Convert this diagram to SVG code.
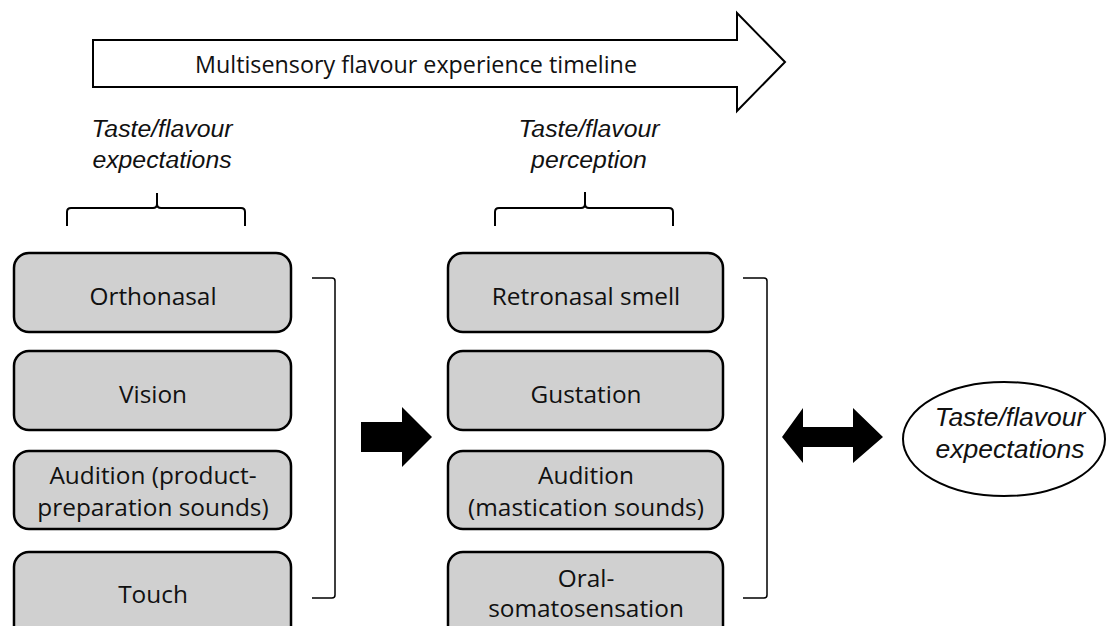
<svg xmlns="http://www.w3.org/2000/svg" width="1109" height="626" viewBox="0 0 1109 626">
<style>
.box{fill:#d0d0d0;stroke:#000;stroke-width:2.5}
.lbl{font-family:"Open Sans","Liberation Sans",sans-serif;font-size:24.4px;fill:#111;text-anchor:middle}
.tl{font-family:"Open Sans","Liberation Sans",sans-serif;font-size:23.3px;fill:#111;text-anchor:middle}
.hd{font-family:"Liberation Sans",Arial,sans-serif;font-style:italic;font-size:24.8px;fill:#111;text-anchor:middle}
.hde{font-family:"Liberation Sans",Arial,sans-serif;font-style:italic;font-size:26.5px;fill:#111;text-anchor:middle}
.brk{fill:none;stroke:#000;stroke-width:2}
.thin{fill:none;stroke:#000;stroke-width:1.5}
</style>
<rect width="1109" height="626" fill="#fff"/>
<g id="timeline">
<path d="M93 40 H737 V13 L785 62 L737 111 V87 H93 Z" fill="#fff" stroke="#000" stroke-width="2"/>
<text class="tl" x="416" y="73">Multisensory flavour experience timeline</text>
</g>
<g id="heading-expectations">
<text class="hd" x="162" y="137">Taste/flavour</text>
<text class="hd" x="162" y="168">expectations</text>
<path class="brk" d="M67 226 V212 Q67 208 71 208 H153 Q157 208 157 204 V193 M157 204 Q157 208 161 208 H241 Q245 208 245 212 V226"/>
</g>
<g id="heading-perception">
<text class="hd" x="589" y="137">Taste/flavour</text>
<text class="hd" x="589" y="168">perception</text>
<path class="brk" d="M495 226 V212 Q495 208 499 208 H581 Q585 208 585 204 V192 M585 204 Q585 208 589 208 H669 Q673 208 673 212 V226"/>
</g>
<g id="orthonasal"><rect class="box" x="14" y="253" width="277" height="79" rx="15"/><text class="lbl" x="153" y="305">Orthonasal</text></g>
<g id="vision"><rect class="box" x="14" y="351" width="277" height="79" rx="15"/><text class="lbl" x="153" y="403">Vision</text></g>
<g id="audition-product"><rect class="box" x="14" y="451" width="277" height="78" rx="15"/><text class="lbl" x="153" y="484">Audition (product-</text><text class="lbl" x="153" y="516">preparation sounds)</text></g>
<g id="touch"><rect class="box" x="14" y="552" width="277" height="90" rx="15"/><text class="lbl" x="153" y="603">Touch</text></g>
<g id="retronasal"><rect class="box" x="448" y="253" width="275" height="79" rx="15"/><text class="lbl" x="586" y="305">Retronasal smell</text></g>
<g id="gustation"><rect class="box" x="448" y="351" width="275" height="79" rx="15"/><text class="lbl" x="586" y="403">Gustation</text></g>
<g id="audition-mastication"><rect class="box" x="448" y="451" width="275" height="78" rx="15"/><text class="lbl" x="586" y="484">Audition</text><text class="lbl" x="586" y="516">(mastication sounds)</text></g>
<g id="oral"><rect class="box" x="448" y="552" width="275" height="90" rx="15"/><text class="lbl" x="586" y="587">Oral-</text><text class="lbl" x="586" y="617">somatosensation</text></g>
<g id="expectations-ellipse">
<ellipse cx="1004" cy="439" rx="101" ry="57" fill="#fff" stroke="#000" stroke-width="2"/>
<text class="hde" x="1010" y="426">Taste/flavour</text>
<text class="hde" x="1010" y="458">expectations</text>
</g>
<g id="connectors">
<path class="thin" d="M312 278 H332 Q335 278 335 281 V595 Q335 598 332 598 H312"/>
<path class="thin" d="M743 278 H764 Q767 278 767 281 V595 Q767 598 764 598 H743"/>
<path d="M361 422 H402 V407 L432 437 L402 467 V452 H361 Z" fill="#000"/>
<path d="M782 437 L803 408 V427 H853 V408 L883 437 L853 463 V447 H803 V463 Z" fill="#000"/>
</g>
</svg>
